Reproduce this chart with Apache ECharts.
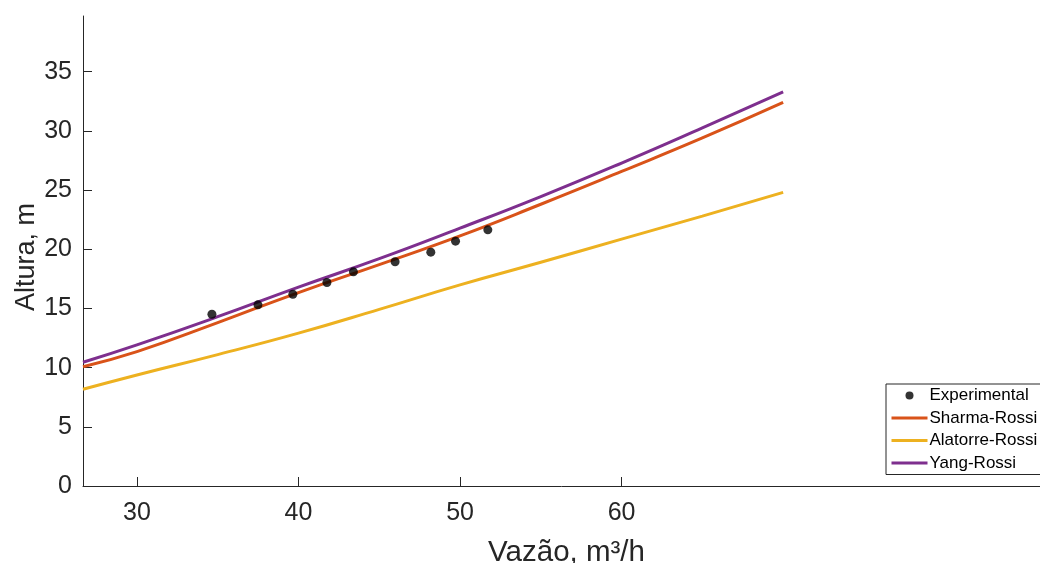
<!DOCTYPE html>
<html>
<head>
<meta charset="utf-8">
<script src="https://cdn.jsdelivr.net/npm/echarts@6/dist/echarts.min.js"></script>
<style>
  html, body { margin: 0; padding: 0; background: #ffffff; }
  #chart { width: 1040px; height: 563px; }
</style>
</head>
<body>
<div id="chart"></div>
<script>
// Measured head vs. flow rate
const expFlow = [34.64, 37.49, 39.65, 41.76, 43.40, 45.98, 48.19, 49.72, 51.72];
const expHead = [14.51, 15.30, 16.20, 17.19, 18.09, 18.94, 19.75, 20.68, 21.64];

// Model curves, sampled along the flow range
const modelFlow = [26.66, 30, 35, 40, 45, 50, 55, 60, 65, 70];
const sharmaHead = [10.08, 11.35, 13.80, 16.34, 18.70, 21.13, 23.80, 26.57, 29.40, 32.40];
const alatorreHead = [8.17, 9.38, 11.10, 12.91, 14.92, 16.99, 18.90, 20.85, 22.80, 24.80];
const yangHead = [10.45, 11.92, 14.30, 16.80, 19.20, 21.78, 24.45, 27.28, 30.25, 33.30];

// Axis ticks
const xTicks = [30, 40, 50, 60];
const yTicks = [0, 5, 10, 15, 20, 25, 30, 35];

const seriesNames = ['Experimental', 'Sharma-Rossi', 'Alatorre-Rossi', 'Yang-Rossi'];

const pairs = (xs, ys) => xs.map((x, i) => [x, ys[i]]);

const textColor = '#262626';
const fontFamily = 'Liberation Sans, Arial, Helvetica, sans-serif';

const chart = echarts.init(document.getElementById('chart'), null, { renderer: 'canvas' });

const lineSeries = (name, ys, color) => ({
  name: name,
  type: 'line',
  data: pairs(modelFlow, ys),
  smooth: true,
  symbol: 'none',
  lineStyle: { color: color, width: 3 },
  itemStyle: { color: color },
  z: 2
});

// Legend entries for the model curves show only the line stroke
const lineEntry = (name) => ({ name: name, itemStyle: { opacity: 0 }, lineStyle: { width: 3 } });

chart.setOption({
  animation: false,
  backgroundColor: '#ffffff',
  grid: { left: 83, right: 0, top: 16, bottom: 77, containLabel: false, outerBoundsMode: 'none' },
  xAxis: {
    type: 'value',
    min: 26.66,
    max: 85.9,
    name: 'Vazão, m³/h',
    nameLocation: 'middle',
    nameGap: 52,
    nameMoveOverlap: false,
    nameTextStyle: { color: textColor, fontSize: 29.5, fontFamily: fontFamily, padding: [0, 0, 0, 10] },
    axisLine: { show: true, lineStyle: { color: textColor, width: 1 } },
    axisTick: { show: true, inside: true, length: 9, customValues: xTicks, lineStyle: { color: textColor } },
    axisLabel: { customValues: xTicks, color: textColor, fontSize: 25, fontFamily: fontFamily, margin: 15 },
    splitLine: { show: false }
  },
  yAxis: {
    type: 'value',
    min: 0,
    max: 39.7,
    name: 'Altura, m',
    nameLocation: 'middle',
    nameGap: 43,
    nameMoveOverlap: false,
    nameRotate: 90,
    nameTextStyle: { color: textColor, fontSize: 27, fontFamily: fontFamily, padding: [0, 12, 0, 0] },
    axisLine: { show: true, lineStyle: { color: textColor, width: 1 } },
    axisTick: { show: true, inside: true, length: 9, customValues: yTicks, lineStyle: { color: textColor } },
    axisLabel: { customValues: yTicks, color: textColor, fontSize: 25, fontFamily: fontFamily, margin: 11 },
    splitLine: { show: false }
  },
  legend: {
    orient: 'vertical',
    left: 886,
    top: 384,
    backgroundColor: '#ffffff',
    borderColor: '#262626',
    borderWidth: 1,
    borderRadius: 0,
    padding: [3, 12, 3, 4],
    itemWidth: 36,
    itemHeight: 8,
    itemGap: 5.5,
    textStyle: { color: '#000000', fontSize: 17, fontFamily: fontFamily, lineHeight: 17, padding: [0, 0, 0, -3] },
    data: [
      { name: seriesNames[0], icon: 'circle' },
      lineEntry(seriesNames[1]),
      lineEntry(seriesNames[2]),
      lineEntry(seriesNames[3])
    ]
  },
  series: [
    lineSeries(seriesNames[1], sharmaHead, '#D95319'),
    lineSeries(seriesNames[2], alatorreHead, '#EDB120'),
    lineSeries(seriesNames[3], yangHead, '#7E2F8E'),
    {
      name: seriesNames[0],
      type: 'scatter',
      data: pairs(expFlow, expHead),
      symbol: 'circle',
      symbolSize: 9,
      itemStyle: { color: '#000000' },
      z: 3
    }
  ]
});
</script>
</body>
</html>
